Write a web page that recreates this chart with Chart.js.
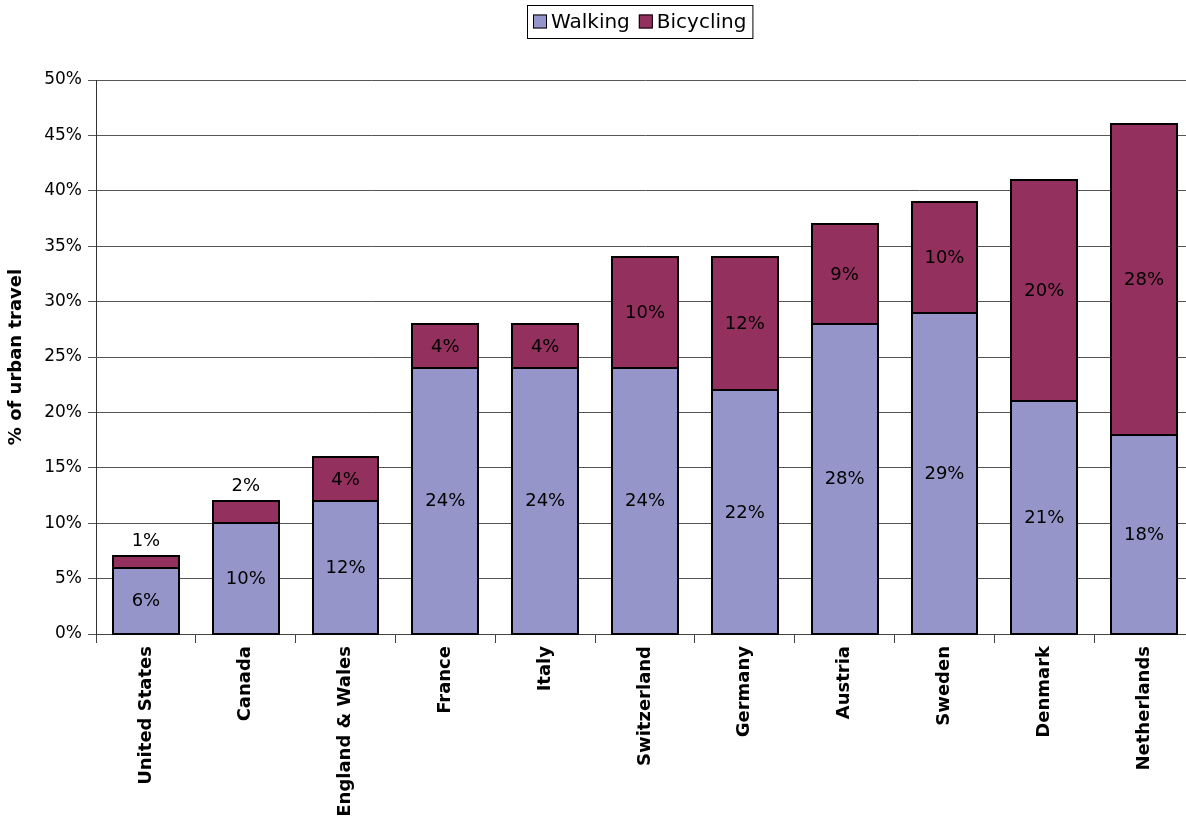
<!DOCTYPE html>
<html lang="en">
<head>
    <meta charset="UTF-8">
    <title>Walking and bicycling share of urban travel</title>
    <style>
        html, body {
            margin: 0;
            padding: 0;
            background-color: white;
            overflow: hidden;
        }
        .chart-box {
            width: 1194px;
            height: 816px;
        }
    </style>
    <script src="https://cdn.jsdelivr.net/npm/chart.js"></script>
</head>
<body>
<div class="chart-box">
    <canvas id="travelChart" width="1194" height="816"></canvas>
</div>
<script>
    // data
    const countries = ['United States', 'Canada', 'England & Wales', 'France', 'Italy',
        'Switzerland', 'Germany', 'Austria', 'Sweden', 'Denmark', 'Netherlands'];
    const walking = [6, 10, 12, 24, 24, 24, 22, 28, 29, 21, 18];
    const bicycling = [1, 2, 4, 4, 4, 10, 12, 9, 10, 20, 28];
    const yTicks = [0, 5, 10, 15, 20, 25, 30, 35, 40, 45, 50];

    const fontName = '"DejaVu Sans", sans-serif';

    // crisp black outline round each segment + value labels
    const valueLabels = {
        id: 'valueLabels',
        afterDatasetsDraw(chart) {
            const ctx = chart.ctx;
            ctx.save();
            ctx.strokeStyle = '#000';
            ctx.lineWidth = 2;
            chart.data.datasets.forEach((ds, i) => {
                chart.getDatasetMeta(i).data.forEach(bar => {
                    const x0 = Math.round(bar.x - bar.width / 2);
                    const x1 = Math.round(bar.x + bar.width / 2);
                    const y0 = Math.round(bar.y);
                    const y1 = Math.round(bar.base);
                    ctx.strokeRect(x0, y0, x1 - x0, y1 - y0);
                });
            });
            ctx.font = '18px ' + fontName;
            ctx.fillStyle = '#000';
            ctx.textAlign = 'center';
            ctx.textBaseline = 'middle';
            chart.data.datasets.forEach((ds, i) => {
                chart.getDatasetMeta(i).data.forEach((bar, j) => {
                    const v = ds.data[j];
                    let y = (bar.y + bar.base) / 2 + 1;
                    if (bar.base - bar.y < 30) {
                        y = bar.y - 15;
                    }
                    ctx.fillText(v + '%', bar.x, y);
                });
            });
            ctx.restore();
        }
    };

    // legend box at the top
    const boxLegend = {
        id: 'boxLegend',
        afterDraw(chart) {
            const ctx = chart.ctx;
            ctx.save();
            ctx.font = '20px ' + fontName;
            const items = chart.data.datasets.map(ds => ({ text: ds.label, color: ds.backgroundColor }));
            const sq = 14, gap = 4, spacing = 9, pad = 6;
            let total = pad;
            items.forEach((it, i) => {
                total += sq + gap + ctx.measureText(it.text).width + (i < items.length - 1 ? spacing : 0);
            });
            total += pad;
            const cx = 640;
            let x = Math.round(cx - total / 2);
            const top = 5, h = 33;
            ctx.fillStyle = '#fff';
            ctx.fillRect(x, top, total, h);
            ctx.strokeStyle = '#000';
            ctx.lineWidth = 1;
            ctx.strokeRect(x + 0.5, top + 0.5, total, h);
            let px = x + pad;
            const my = top + h / 2;
            ctx.textBaseline = 'middle';
            items.forEach(it => {
                ctx.fillStyle = it.color;
                ctx.fillRect(px, my - sq / 2, sq, sq);
                ctx.strokeRect(px + 0.5, my - sq / 2 + 0.5, sq - 1, sq - 1);
                px += sq + gap;
                ctx.fillStyle = '#000';
                ctx.fillText(it.text, px, my + 1);
                px += ctx.measureText(it.text).width + spacing;
            });
            ctx.restore();
        }
    };

    new Chart(document.getElementById('travelChart'), {
        type: 'bar',
        data: {
            labels: countries,
            datasets: [{
                label: 'Walking',
                data: walking,
                backgroundColor: '#9595C9',
                borderWidth: 0,
                categoryPercentage: 1,
                barPercentage: 0.66
            }, {
                label: 'Bicycling',
                data: bicycling,
                backgroundColor: '#93305E',
                borderWidth: 0,
                categoryPercentage: 1,
                barPercentage: 0.66
            }]
        },
        options: {
            responsive: false,
            animation: false,
            devicePixelRatio: 1,
            layout: { padding: { top: 80, right: 0, left: 0, bottom: 0 } },
            plugins: {
                legend: { display: false },
                tooltip: { enabled: false }
            },
            scales: {
                x: {
                    stacked: true,
                    grid: { drawOnChartArea: false, color: '#444', tickLength: 9 },
                    border: { color: '#444', width: 1 },
                    ticks: {
                        minRotation: 90,
                        maxRotation: 90,
                        color: '#000',
                        padding: 3,
                        font: { family: fontName, size: 18, weight: 'bold' }
                    },
                    afterFit: s => { s.height = 182; }
                },
                y: {
                    stacked: true,
                    min: 0,
                    max: 50,
                    afterBuildTicks: s => { s.ticks = yTicks.map(v => ({ value: v })); },
                    grid: { color: '#555', lineWidth: 1, tickLength: 8 },
                    border: { color: '#333', width: 1 },
                    ticks: {
                        color: '#000',
                        padding: 6,
                        font: { family: fontName, size: 17 },
                        callback: v => v + '%'
                    },
                    title: {
                        display: true,
                        text: '% of urban travel',
                        color: '#000',
                        padding: { top: 6, bottom: 4 },
                        font: { family: fontName, size: 18, weight: 'bold' }
                    },
                    afterFit: s => { s.width = 96; }
                }
            }
        },
        plugins: [valueLabels, boxLegend]
    });
</script>
</body>
</html>
